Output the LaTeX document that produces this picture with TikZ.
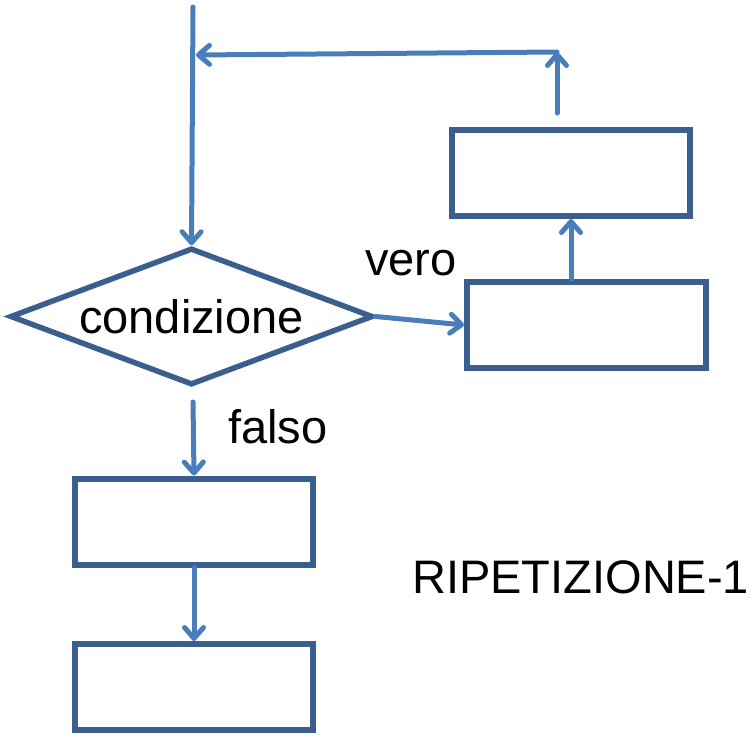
\documentclass[tikz,border=0pt]{standalone}
\usepackage{fontspec}
\setmainfont{Liberation Sans}
\usetikzlibrary{arrows.meta,shapes.geometric}
\definecolor{boxblue}{HTML}{3A5F8E}
\definecolor{arrblue}{HTML}{4A7EBB}
\tikzset{
  stepbox/.style={draw=boxblue, line width=6pt, rectangle, inner sep=0pt, minimum width=238pt, minimum height=86pt, fill=white},
  decision/.style={draw=boxblue, line width=5.5pt, shape=diamond, inner sep=0pt, minimum width=363pt, minimum height=137pt, aspect=2.65, line join=miter},
  conn/.style={draw=arrblue, line width=5pt, line cap=round, -{Straight Barb[length=11pt,width=19pt,line cap=round,line join=round]}},
  lbl/.style={anchor=base west, inner sep=0pt, font=\fontsize{47}{56}\selectfont}
}
\begin{document}
\begin{tikzpicture}[x=1pt,y=-1pt]
\useasboundingbox (0,0) rectangle (750,734);
% nodes
\node[decision, font=\fontsize{47}{56}\selectfont] (cond) at (191.5,316.5) {condizione};
\node[stepbox] (b1) at (194,521.5) {};
\node[stepbox] (b2) at (194,687) {};
\node[stepbox] (rtop) at (571,173) {};
\node[stepbox, minimum width=239pt] (rbot) at (586.5,325) {};
% free ends
\coordinate (topin) at (193,7);
\coordinate (upstart) at (557,113);
\coordinate (corner) at (557,52);
\coordinate (join) at (196,55);
\coordinate (fstart) at (193,402);
% connectors
\draw[conn] (topin) -- (cond.north);
\draw[conn] (upstart) -- (corner);
\draw[conn] (corner) -- (join);
\draw[conn] (cond.east) -- (rbot.west);
\draw[conn] (rtop.south |- rbot.north) -- (rtop.south);
\draw[conn] (fstart) -- (b1.north);
\draw[conn] (b1.south) -- (b2.north);
% labels
\node[lbl] (vero) at (365,275) {vero};
\node[lbl] (falso) at (228,443) {falso};
\node[lbl] (title) at (412,593) {RIPETIZIONE-1};
\end{tikzpicture}
\end{document}
